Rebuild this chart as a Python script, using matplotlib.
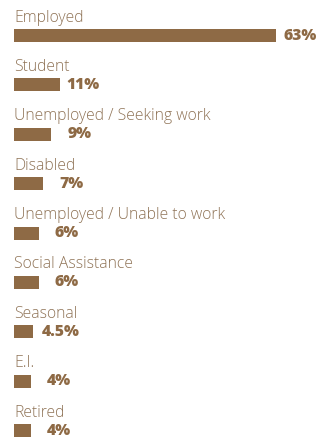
import matplotlib
matplotlib.use('Agg')
import matplotlib.pyplot as plt

# 就业状况分布
categories = ['Employed', 'Student', 'Unemployed / Seeking work', 'Disabled',
              'Unemployed / Unable to work', 'Social Assistance', 'Seasonal',
              'E.I.', 'Retired']
values = [63, 11, 9, 7, 6, 6, 4.5, 4, 4]
value_labels = ['63%', '11%', '9%', '7%', '6%', '6%', '4.5%', '4%', '4%']

bar_color = '#8e6a45'
text_color = '#8f7356'

W, H, DPI = 321, 444, 100
fig = plt.figure(figsize=(W / DPI, H / DPI), dpi=DPI)
ax = fig.add_axes([0, 0, 1, 1])

px_per_unit = 262 / 63          # 像素/百分比
row_px = 49.4                   # 行距
left_px, first_px = 14, 35.5

ax.set_xlim(-left_px / px_per_unit, (W - left_px) / px_per_unit)
ax.set_ylim((H - first_px) / row_px, -first_px / row_px)
ax.axis('off')

pt = 72 / DPI  # 1 px in points
y = list(range(len(categories)))
ax.barh(y, values, height=13 / row_px, left=0, color=bar_color)

for i, (cat, v, lab) in enumerate(zip(categories, values, value_labels)):
    ax.annotate(cat, (0, i), xytext=(0, 14 * pt), textcoords='offset points',
                ha='left', va='baseline', fontsize=11.3, family=['Open Sans', 'DejaVu Sans'],
                fontweight='light', color=text_color)
    if v >= 10:
        ax.annotate(lab, (v, i), xytext=(7 * pt, 0), textcoords='offset points',
                    ha='left', va='center', fontsize=11.3, family=['Open Sans', 'DejaVu Sans'],
                    fontweight='heavy', color=bar_color)
    else:
        ax.annotate(lab, (v, i), xytext=(28 * pt, 0), textcoords='offset points',
                    ha='center', va='center', fontsize=11.3, family=['Open Sans', 'DejaVu Sans'],
                    fontweight='heavy', color=bar_color)

fig.savefig('out.png', dpi=DPI, facecolor='white')
